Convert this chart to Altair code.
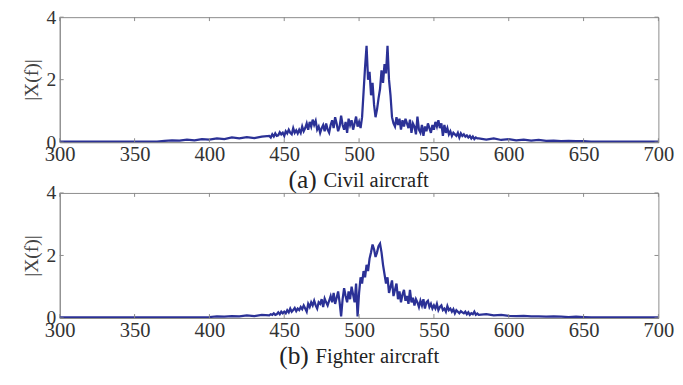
import altair as alt
import pandas as pd

# frequency grid (coarse on the flat tails, 1 Hz in the active band)
freq_low = list(range(300, 440, 5))    # 28 points
freq_mid = list(range(440, 580, 1))    # 140 points
freq_high = list(range(580, 701, 5))   # 25 points
freq = freq_low + freq_mid + freq_high

# (a) Civil aircraft |X(f)|
civil_low = [0.02] * 14 + [0.04, 0.06, 0.05, 0.08, 0.06, 0.1, 0.08, 0.12, 0.1, 0.15, 0.12, 0.16, 0.13, 0.18]
civil_mid = [
    0.2, 0.15, 0.25, 0.18, 0.28, 0.2, 0.22, 0.32, 0.25, 0.3,
    0.2, 0.35, 0.28, 0.4, 0.3, 0.25, 0.45, 0.3, 0.38, 0.28,
    0.4, 0.3, 0.5, 0.35, 0.45, 0.6, 0.4, 0.65, 0.5, 0.72,
    0.55, 0.68, 0.4, 0.5, 0.3, 0.45, 0.55, 0.35, 0.6, 0.4,
    0.3, 0.55, 0.7, 0.45, 0.8, 0.6, 0.35, 0.5, 0.85, 0.55,
    0.4, 0.65, 0.3, 0.75, 0.55, 0.7, 0.4, 0.6, 0.82, 0.5,
    0.65, 0.45, 0.8, 1.6, 2.4, 3.08, 2.0, 2.25, 1.5, 1.9,
    1.2, 0.8, 1.05, 1.4, 1.7, 2.3, 1.9, 2.5, 2.2, 3.08,
    2.0, 1.5, 0.8, 0.6, 0.5, 0.8, 0.55, 0.75, 0.4, 0.7,
    0.5, 0.75, 0.6, 0.45, 0.72, 0.3, 0.6, 0.5, 0.25, 0.82,
    0.4, 0.3, 0.55, 0.2, 0.5, 0.35, 0.6, 0.45, 0.3, 0.55,
    0.4, 0.65, 0.5, 0.7, 0.45, 0.6, 0.2, 0.55, 0.3, 0.45,
    0.25, 0.35, 0.2, 0.3, 0.25, 0.2, 0.3, 0.15, 0.28, 0.2,
    0.25, 0.18, 0.22, 0.15, 0.2, 0.12, 0.18, 0.1, 0.15, 0.12,
]
civil_high = [0.12, 0.08, 0.12, 0.07, 0.1, 0.06, 0.08, 0.05, 0.07, 0.04,
              0.05, 0.03, 0.04, 0.03, 0.03] + [0.02] * 10

# (b) Fighter aircraft |X(f)|
fighter_low = [0.02] * 20 + [0.03, 0.05, 0.04, 0.06, 0.05, 0.08, 0.06, 0.1]
fighter_mid = [
    0.08, 0.12, 0.1, 0.15, 0.1, 0.12, 0.18, 0.12, 0.2, 0.15,
    0.2, 0.15, 0.25, 0.18, 0.3, 0.2, 0.25, 0.32, 0.22, 0.3,
    0.25, 0.35, 0.28, 0.4, 0.3, 0.2, 0.45, 0.35, 0.5, 0.4,
    0.55, 0.4, 0.3, 0.5, 0.45, 0.6, 0.35, 0.62, 0.5, 0.4,
    0.55, 0.7, 0.5, 0.8, 0.45, 0.65, 0.85, 0.5, 0.05, 0.6,
    0.95, 0.7, 0.5, 0.85, 0.6, 1.0, 0.75, 0.5, 1.1, 0.05,
    0.8, 1.3, 1.1, 1.5, 1.3, 1.7, 1.5, 1.9, 2.1, 2.35,
    2.2, 1.95, 2.1, 2.3, 2.38, 2.1, 1.7, 1.4, 1.1, 1.3,
    0.8, 1.0, 1.2, 0.7, 0.9, 1.1, 0.6, 0.85, 0.5, 0.75,
    0.9, 0.55, 0.7, 0.45, 0.9, 0.5, 0.65, 0.4, 0.6, 0.5,
    0.35, 0.55, 0.4, 0.6, 0.3, 0.5, 0.55, 0.35, 0.45, 0.3,
    0.4, 0.3, 0.45, 0.25, 0.35, 0.4, 0.25, 0.3, 0.2, 0.38,
    0.25, 0.3, 0.2, 0.28, 0.15, 0.25, 0.2, 0.15, 0.22, 0.18,
    0.15, 0.2, 0.12, 0.18, 0.1, 0.15, 0.12, 0.2, 0.1, 0.14,
]
fighter_high = [0.1, 0.12, 0.08, 0.1, 0.07, 0.06, 0.07, 0.05, 0.05, 0.04,
                0.05, 0.04, 0.03, 0.04, 0.03] + [0.02] * 10

civil = civil_low + civil_mid + civil_high
fighter = fighter_low + fighter_mid + fighter_high

x_ticks = [300, 350, 400, 450, 500, 550, 600, 650, 700]
y_ticks = [0, 2, 4]
cap_letters = ["(a)", "(b)"]
cap_texts = ["Civil aircraft", "Fighter aircraft"]

FONT = "Liberation Serif"
LINE = "#2B3196"
GRAY = "#8a8a8a"
W, H = 613, 128

xs = alt.Scale(domain=[300, 700], nice=False, zero=False)
ys = alt.Scale(domain=[0, 4], nice=False)

x_axis = alt.Axis(values=x_ticks, ticks=False, grid=False, title=None,
                  labelFont=FONT, labelFontSize=21, labelColor="#333",
                  labelPadding=2, domainColor=GRAY, labelFlush=False)
y_axis = alt.Axis(values=y_ticks, ticks=False, grid=False, title="|X(f)|",
                  titleFont=FONT, titleFontSize=20, titleFontWeight="normal",
                  titleColor="#444", titlePadding=5,
                  labelFont=FONT, labelFontSize=20, labelColor="#333",
                  labelPadding=4, domainColor=GRAY, labelFlush=False)


def panel(values, letter, text, letter_right, text_left):
    df = pd.DataFrame({"f": freq, "v": values})
    line = alt.Chart(df).mark_line(color=LINE, strokeWidth=2.3, clip=True).encode(
        x=alt.X("f:Q", scale=xs, axis=x_axis),
        y=alt.Y("v:Q", scale=ys, axis=y_axis),
    )
    xt = pd.DataFrame({"f": x_ticks})
    yt = pd.DataFrame({"v": y_ticks})
    xb = alt.Chart(xt).mark_rule(color=GRAY).encode(
        x=alt.X("f:Q", scale=xs, axis=x_axis), y=alt.value(H), y2=alt.value(H - 4))
    xtop = alt.Chart(xt).mark_rule(color=GRAY).encode(
        x=alt.X("f:Q", scale=xs, axis=x_axis), y=alt.value(0), y2=alt.value(4))
    yl = alt.Chart(yt).mark_rule(color=GRAY).encode(
        y=alt.Y("v:Q", scale=ys, axis=y_axis), x=alt.value(0), x2=alt.value(4))
    yr = alt.Chart(yt).mark_rule(color=GRAY).encode(
        y=alt.Y("v:Q", scale=ys, axis=y_axis), x=alt.value(W), x2=alt.value(W - 4))
    cap1 = alt.Chart(pd.DataFrame({"c": [letter]})).mark_text(
        font=FONT, fontSize=26, align="right", baseline="middle", color="#222").encode(
        text="c:N", x=alt.value(letter_right), y=alt.value(H + 39))
    cap2 = alt.Chart(pd.DataFrame({"c": [text]})).mark_text(
        font=FONT, fontSize=21, align="left", baseline="middle", color="#222").encode(
        text="c:N", x=alt.value(text_left), y=alt.value(H + 40))
    return alt.layer(line, xb, xtop, yl, yr, cap1, cap2).properties(width=W, height=H)


pa = panel(civil, cap_letters[0], cap_texts[0], 263, 270)
pb = panel(fighter, cap_letters[1], cap_texts[1], 255, 262)

chart = alt.vconcat(pa, pb, spacing=52, bounds="flush").configure_view(
    stroke=GRAY, strokeWidth=1).properties(
    padding={"left": 13, "top": -6, "right": 0, "bottom": 0},
    background="white")

chart.save("out.html", embed_options={"renderer": "svg", "actions": False})
